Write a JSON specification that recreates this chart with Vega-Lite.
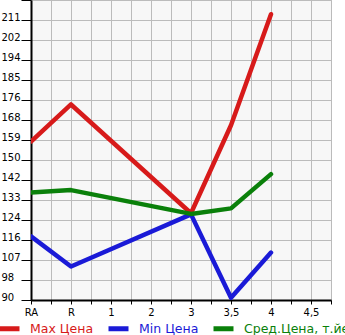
{
  "$schema": "https://vega.github.io/schema/vega-lite/v6.json",
  "width": 300,
  "height": 300,
  "autosize": {"type": "none"},
  "padding": {"left": 31, "top": 0, "right": 14, "bottom": 35},
  "background": "white",
  "config": {
    "font": "DejaVu Sans",
    "view": {"fill": "#f7f7f7", "stroke": "#bbbbbb", "strokeWidth": 1}
  },
  "data": {
    "values": [
      {"x": 0, "label": "RA", "series": "Max Цена", "price": 158.5},
      {"x": 1, "label": "R", "series": "Max Цена", "price": 174.5},
      {"x": 4, "label": "3", "series": "Max Цена", "price": 127.5},
      {"x": 5, "label": "3,5", "series": "Max Цена", "price": 165.5},
      {"x": 6, "label": "4", "series": "Max Цена", "price": 213.5},
      {"x": 0, "label": "RA", "series": "Min Цена", "price": 117.5},
      {"x": 1, "label": "R", "series": "Min Цена", "price": 104.5},
      {"x": 4, "label": "3", "series": "Min Цена", "price": 127},
      {"x": 5, "label": "3,5", "series": "Min Цена", "price": 91},
      {"x": 6, "label": "4", "series": "Min Цена", "price": 110.5},
      {"x": 0, "label": "RA", "series": "Сред.Цена, т.йен", "price": 136.5},
      {"x": 1, "label": "R", "series": "Сред.Цена, т.йен", "price": 137.5},
      {"x": 4, "label": "3", "series": "Сред.Цена, т.йен", "price": 127.2},
      {"x": 5, "label": "3,5", "series": "Сред.Цена, т.йен", "price": 129.6},
      {"x": 6, "label": "4", "series": "Сред.Цена, т.йен", "price": 144.4}
    ]
  },
  "mark": {"type": "line", "strokeWidth": 4.5, "strokeCap": "round", "strokeJoin": "round", "clip": true},
  "encoding": {
    "x": {
      "field": "x",
      "type": "quantitative",
      "scale": {"domain": [0, 7.5], "nice": false, "zero": false},
      "axis": {
        "title": null,
        "values": [0, 0.5, 1, 1.5, 2, 2.5, 3, 3.5, 4, 4.5, 5, 5.5, 6, 6.5, 7, 7.5],
        "labelExpr": "datum.value % 1 == 0 ? ['RA','R','1','2','3','3,5','4','4,5',''][datum.value] : ''",
        "grid": true,
        "gridColor": "#bbbbbb",
        "gridOpacity": 1,
        "domainColor": "black",
        "domainWidth": 2,
        "tickColor": "black",
        "tickSize": 4,
        "labelColor": "black",
        "labelFontSize": 10,
        "labelPadding": 3,
        "labelFlush": false,
        "labelOverlap": false
      }
    },
    "y": {
      "field": "price",
      "type": "quantitative",
      "scale": {"domain": [90, 219.642857], "nice": false, "zero": false},
      "axis": {
        "title": null,
        "values": [90, 98.642857, 107.285714, 115.928571, 124.571429, 133.214286, 141.857143, 150.5, 159.142857, 167.785714, 176.428571, 185.071429, 193.714286, 202.357143, 211, 219.642857],
        "labelExpr": "['90','98','107','116','124','133','142','150','159','168','176','185','194','202','211',''][round((datum.value-90)/8.642857)]",
        "grid": true,
        "gridColor": "#bbbbbb",
        "gridOpacity": 1,
        "domainColor": "black",
        "domainWidth": 2,
        "tickColor": "black",
        "tickSize": 10,
        "labelColor": "black",
        "labelFontSize": 10,
        "labelAlign": "left",
        "labelBaseline": "alphabetic",
        "labelPadding": 20,
        "labelFlush": false,
        "labelOverlap": false
      }
    },
    "color": {
      "field": "series",
      "type": "nominal",
      "scale": {
        "domain": ["Max Цена", "Min Цена", "Сред.Цена, т.йен"],
        "range": ["#d71a1a", "#1a1ad7", "#0a800a"]
      },
      "legend": {
        "title": null,
        "orient": "none",
        "legendX": -34,
        "legendY": 316,
        "direction": "horizontal",
        "symbolType": "stroke",
        "symbolSize": 400,
        "symbolStrokeWidth": 5,
        "labelFontSize": 12.5,
        "labelOffset": 8,
        "columnPadding": 4,
        "labelLimit": 200,
        "encode": {
          "labels": {"update": {"fill": {"scale": "color", "field": "value"}}}
        }
      }
    }
  }
}
